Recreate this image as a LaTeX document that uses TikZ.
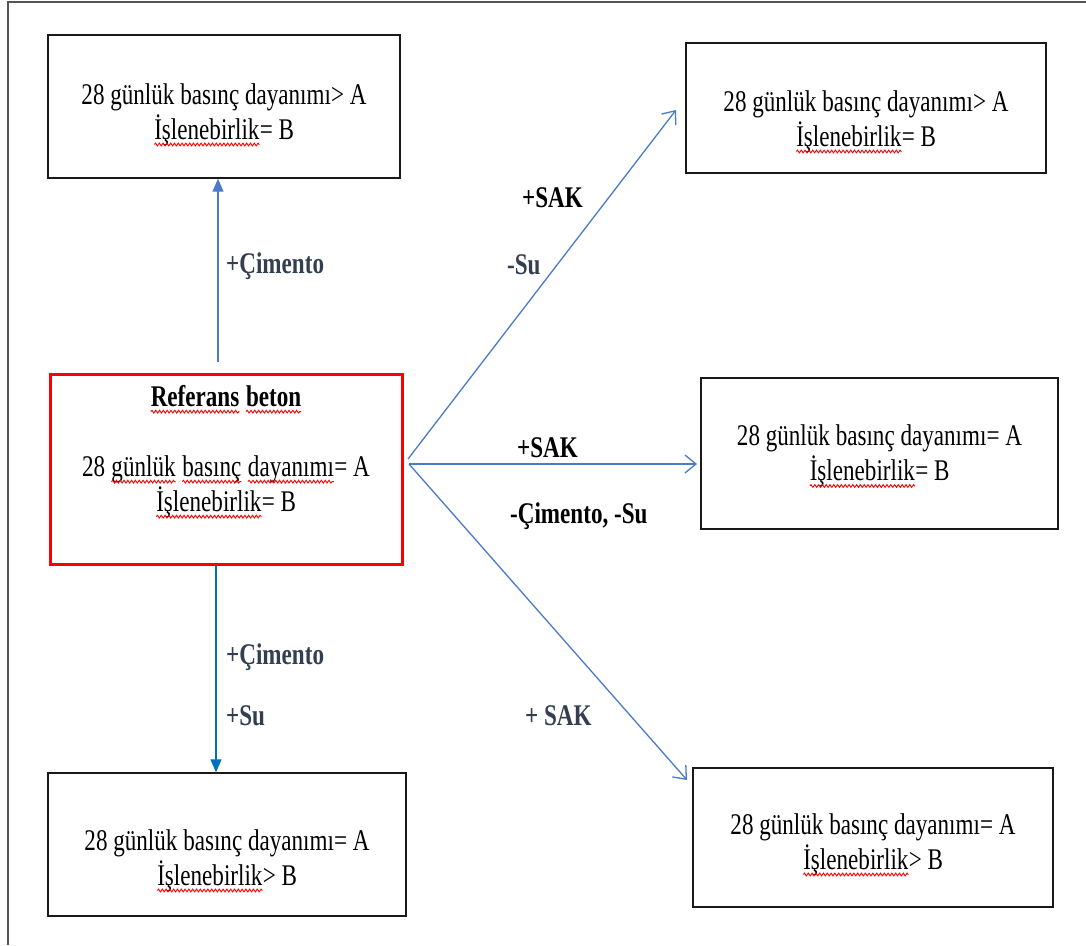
\documentclass[tikz,border=0pt]{standalone}
\usepackage{fontspec}
\setmainfont{Liberation Serif}[FakeStretch=0.77]
\usetikzlibrary{arrows.meta,decorations.pathmorphing}
\newcommand\spl[1]{\tikz[baseline=(w.base)]{\node[inner sep=0pt,outer sep=0pt,draw=none,anchor=base](w){#1};\draw[red,line width=0.9pt,decorate,decoration={snake,amplitude=1.4pt,segment length=3.8pt}]([yshift=-5pt]w.base west)--([yshift=-5pt]w.base east);}}
\definecolor{ln}{HTML}{4A7BCB}
\definecolor{dn}{HTML}{0070C0}
\definecolor{lab}{HTML}{333F50}
\definecolor{frm}{HTML}{555555}
\tikzset{
  bx/.style={draw=black!90, line width=1.4pt, inner sep=0pt},
  tx/.style={align=center, font=\fontsize{30}{35}\selectfont, inner sep=0pt, text=black},
  lb/.style={font=\fontsize{30}{35}\selectfont\bfseries, inner sep=0pt, anchor=base west},
  cn/.style={draw=ln, line width=1.3pt, -{Straight Barb[length=11pt,width=18pt,line width=1.3pt]}},
  cf/.style={line width=1.3pt, -{Triangle[length=13pt,width=11pt]}}
}
\begin{document}
\begin{tikzpicture}[x=1pt,y=-1pt]
\useasboundingbox (0,0) rectangle (1086,945);
\fill[white] (0,0) rectangle (1086,945);
\draw[frm, line width=1.5pt] (8,945) -- (8,2) -- (1086,2);

% boxes
\node[bx, minimum width=352pt, minimum height=143pt] (tl) at (224,106.5) {};
\node[bx, minimum width=360pt, minimum height=130pt] (tr) at (866,108) {};
\node[draw=red, line width=3pt, inner sep=0pt, minimum width=352pt, minimum height=190pt] (ref) at (226,469) {};
\node[bx, minimum width=357pt, minimum height=151pt] (mr) at (879.5,453.5) {};
\node[bx, minimum width=358pt, minimum height=143pt] (bl) at (227,844.5) {};
\node[bx, minimum width=360pt, minimum height=139pt] (br) at (873,837.5) {};

% box texts
\node[tx] (tlt) at (224,115) {28 günlük basınç dayanımı> A\\\spl{İşlenebirlik}= B};
\node[tx] (trt) at (866,122) {28 günlük basınç dayanımı> A\\\spl{İşlenebirlik}= B};
\node[tx] (reft) at (226,452) {\textbf{\spl{Referans} \spl{beton}}\\[35pt]28 \spl{günlük} \spl{basınç} \spl{dayanımı}= A\\\spl{İşlenebirlik}= B};
\node[tx] (mrt) at (879.5,456.5) {28 günlük basınç dayanımı= A\\\spl{İşlenebirlik}= B};
\node[tx] (blt) at (227,861) {28 günlük basınç dayanımı= A\\\spl{İşlenebirlik}> B};
\node[tx] (brt) at (873,845) {28 günlük basınç dayanımı= A\\\spl{İşlenebirlik}> B};

% connectors
\coordinate (u0) at (218,362);
\draw[cf, draw=ln] (u0) -- (u0 |- tl.south);
\coordinate (d0) at (216,566);
\draw[cf, draw=dn] (d0) -- (d0 |- bl.north);
\coordinate (o1) at (408,459);
\coordinate (e1) at (676,110);
\draw[cn] (o1) -- (e1);
\coordinate (o2) at (409,464);
\coordinate (e2) at (697,464);
\draw[cn] (o2) -- (e2);
\coordinate (e3) at (687,780);
\draw[cn] (o2) -- (e3);

% labels
\node[lb, text=lab] (l1) at (226,273) {+Çimento};
\node[lb, text=black] (l2) at (522,207) {+SAK};
\node[lb, text=lab] (l3) at (507,274) {-Su};
\node[lb, text=black] (l4) at (517,457) {+SAK};
\node[lb, text=black] (l5) at (510,523) {-Çimento, -Su};
\node[lb, text=lab] (l6) at (525,725) {+ SAK};
\node[lb, text=lab] (l7) at (226,664) {+Çimento};
\node[lb, text=lab] (l8) at (226,725) {+Su};
\end{tikzpicture}
\end{document}
